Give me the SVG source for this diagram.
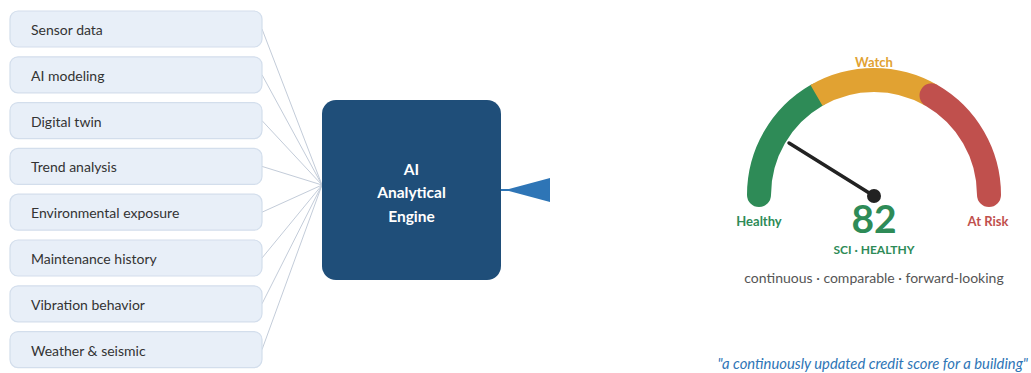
<svg xmlns="http://www.w3.org/2000/svg" width="1031" height="373" viewBox="0 0 1031 373">
<style>
.box{fill:#e8eff8;stroke:#d3deec;stroke-width:1.2}
.bt{font-family:Lato,"Liberation Sans",sans-serif;font-size:14px;fill:#333}
.conn{stroke:#c3ccd9;stroke-width:1;fill:none}
.et{font-family:Lato,"Liberation Sans",sans-serif;font-size:15.5px;font-weight:bold;fill:#fff;text-anchor:middle}
.gl{font-family:Lato,"Liberation Sans",sans-serif;font-weight:bold;text-anchor:middle}
</style>
<rect width="1031" height="373" fill="#fff"/>
<g id="connectors">
<line class="conn" x1="262" y1="29" x2="322" y2="185"/>
<line class="conn" x1="262" y1="74.8" x2="322" y2="185"/>
<line class="conn" x1="262" y1="120.6" x2="322" y2="185"/>
<line class="conn" x1="262" y1="166.4" x2="322" y2="185"/>
<line class="conn" x1="262" y1="212.2" x2="322" y2="185"/>
<line class="conn" x1="262" y1="258" x2="322" y2="185"/>
<line class="conn" x1="262" y1="303.8" x2="322" y2="185"/>
<line class="conn" x1="262" y1="349.6" x2="322" y2="185"/>
<line x1="501" y1="190" x2="550" y2="190" stroke="#2e75b6" stroke-width="2"/>
<polygon points="550,178 550,202 505,190" fill="#2e75b6"/>
</g>
<g id="n1"><rect class="box" x="10" y="11" width="252" height="36" rx="8"/><text class="bt" x="31" y="35">Sensor data</text></g>
<g id="n2"><rect class="box" x="10" y="56.8" width="252" height="36" rx="8"/><text class="bt" x="31" y="80.8">AI modeling</text></g>
<g id="n3"><rect class="box" x="10" y="102.6" width="252" height="36" rx="8"/><text class="bt" x="31" y="126.6">Digital twin</text></g>
<g id="n4"><rect class="box" x="10" y="148.4" width="252" height="36" rx="8"/><text class="bt" x="31" y="172.4">Trend analysis</text></g>
<g id="n5"><rect class="box" x="10" y="194.2" width="252" height="36" rx="8"/><text class="bt" x="31" y="218.2">Environmental exposure</text></g>
<g id="n6"><rect class="box" x="10" y="240" width="252" height="36" rx="8"/><text class="bt" x="31" y="264">Maintenance history</text></g>
<g id="n7"><rect class="box" x="10" y="285.8" width="252" height="36" rx="8"/><text class="bt" x="31" y="309.8">Vibration behavior</text></g>
<g id="n8"><rect class="box" x="10" y="331.6" width="252" height="36" rx="8"/><text class="bt" x="31" y="355.6">Weather &amp; seismic</text></g>
<g id="engine">
<rect x="322" y="100" width="179" height="180" rx="14" fill="#1f4e79"/>
<text class="et" x="411.5" y="175">AI</text>
<text class="et" x="411.5" y="198">Analytical</text>
<text class="et" x="411.5" y="222">Engine</text>
</g>
<g id="gauge">
<path d="M759,195 A115,115 0 0 1 816.5,95.4" fill="none" stroke="#2e8b57" stroke-width="24" stroke-linecap="round"/>
<path d="M816.5,95.4 A115,115 0 0 1 931.5,95.4" fill="none" stroke="#e1a232" stroke-width="24" stroke-linecap="butt"/>
<path d="M931.5,95.4 A115,115 0 0 1 989,195" fill="none" stroke="#c0504d" stroke-width="24" stroke-linecap="round"/>
<line x1="874" y1="196" x2="789" y2="143" stroke="#222" stroke-width="3.5" stroke-linecap="round"/>
<circle cx="874" cy="196" r="7" fill="#222"/>
<text class="gl" x="874" y="67" font-size="13" fill="#e1a232">Watch</text>
<text class="gl" x="759" y="226" font-size="13" fill="#2e8b57">Healthy</text>
<text class="gl" x="988" y="226" font-size="13" fill="#c0504d">At Risk</text>
<text class="gl" x="874" y="233" font-size="39" fill="#2e8b57">82</text>
<text class="gl" x="874" y="254" font-size="12" fill="#2e8b57">SCI · HEALTHY</text>
<text x="874" y="283" font-family="Lato,'Liberation Sans',sans-serif" font-size="14" fill="#555" text-anchor="middle">continuous · comparable · forward-looking</text>
</g>
<text x="1028" y="369" font-family="Lato,'Liberation Sans',sans-serif" font-size="14.8" font-style="italic" fill="#2e75b6" text-anchor="end">"a continuously updated credit score for a building"</text>
</svg>
